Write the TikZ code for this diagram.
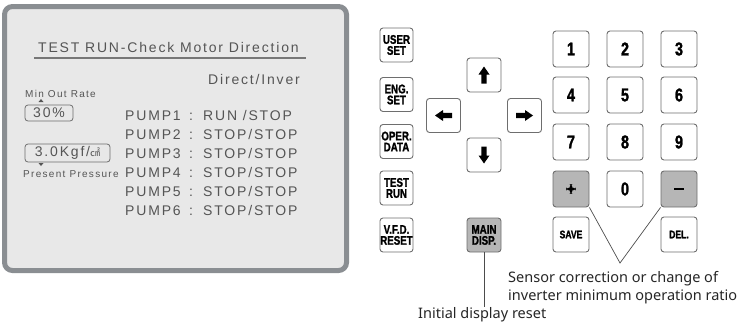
\documentclass[tikz,border=0pt]{standalone}
\usepackage{fontspec}
\setmainfont{Liberation Sans}
\newfontfamily\lcdf[LetterSpace=13]{Liberation Sans}
\newfontfamily\keyf[FakeStretch=0.78, BoldFeatures={FakeBold=1.4}]{Liberation Sans}
\newfontfamily\notef{Noto Sans}
\newfontfamily\cjkf{Noto Sans CJK SC}
\definecolor{panelfill}{HTML}{E8E8E8}
\definecolor{panelborder}{HTML}{8A8E92}
\definecolor{lcdtext}{HTML}{555555}
\definecolor{keyborder}{HTML}{6E6E6E}
\definecolor{keygray}{HTML}{B6B6B6}
\begin{document}
\begin{tikzpicture}[x=1pt,y=-1pt,
  lcd/.style={font=\lcdf\fontsize{14}{14}\selectfont, text=lcdtext, inner sep=0pt},
  lcdsmall/.style={font=\lcdf\fontsize{10}{10}\selectfont, text=lcdtext, inner sep=0pt},
  valbox/.style={draw=keyborder, line width=0.8pt, rounded corners=3pt, inner sep=0pt, font=\lcdf\fontsize{14}{14}\selectfont, text=lcdtext},
  keybtn/.style={draw=keyborder, line width=0.9pt, rounded corners=3pt, fill=white, inner sep=0pt, align=center,
    font=\keyf\bfseries\fontsize{12.5}{11}\selectfont},
  numkey/.style={keybtn, minimum width=36pt, minimum height=36pt, font=\keyf\bfseries\fontsize{18.5}{18}\selectfont},
  leftkey/.style={keybtn, minimum width=33pt, minimum height=34pt},
  arrkey/.style={keybtn, minimum width=34pt, minimum height=34pt},
  graykey/.style={fill=keygray},
  callout/.style={draw=black!70, line width=0.7pt},
  note/.style={font=\notef\fontsize{14.5}{18}\selectfont, text=black!85, inner sep=0pt}
]
\useasboundingbox (0,0) rectangle (743,324);

% ---------- LCD panel ----------
\draw[panelborder, fill=panelfill, line width=5pt, rounded corners=8pt] (4.5,6.5) rectangle (346.5,270.5);

\node[lcd, anchor=base west] (title) at (38,52) {TEST RUN-Check Motor Direction};
\draw[lcdtext!80, line width=1.2pt] (34,58) -- (306,58);
\node[lcd, anchor=base east] (dirinv) at (300,84) {Direct/Inver};

\node[lcdsmall, anchor=base west] (minrate) at (25,97.5) {Min Out Rate};
\fill[lcdtext] (38.5,102) -- (43.5,102) -- (41,99) -- cycle;
\node[valbox, minimum width=48pt, minimum height=16pt] (rate) at (49,113) {30\%};

\node[valbox, minimum width=85pt, minimum height=18pt] (press) at (67.5,153) {3.0Kgf/{\cjkf\fontsize{10}{10}\selectfont ㎠}};
\fill[lcdtext] (38.5,163) -- (43.5,163) -- (41,166) -- cycle;
\node[lcdsmall, anchor=base west] (prestxt) at (23,177) {Present Pressure};

\foreach \n/\st [count=\i from 0] in {1/{RUN\ /STOP},2/{STOP/STOP},3/{STOP/STOP},4/{STOP/STOP},5/{STOP/STOP},6/{STOP/STOP}}{
  \node[lcd, anchor=base west] (pump\n) at (125,120+19*\i) {PUMP\n};
  \node[lcd, anchor=base west] (colon\n) at (189,120+19*\i) {:};
  \node[lcd, anchor=base west] (stat\n) at (203,120+19*\i) {\st};
}

% ---------- left key column ----------
\node[leftkey] (userset) at (396.5,45) {USER\\SET};
\node[leftkey] (engset) at (396.5,94.5) {ENG.\\SET};
\node[leftkey] (operdata) at (396.5,141.5) {OPER.\\DATA};
\node[leftkey] (testrun) at (396.5,188) {TEST\\RUN};
\node[leftkey] (vfdreset) at (396.5,235) {V.F.D.\\RESET};

% ---------- arrow keys ----------
\node[arrkey] (kup) at (484,75) {};
\node[arrkey] (kleft) at (443.5,115.5) {};
\node[arrkey] (kright) at (524.5,115.5) {};
\node[arrkey] (kdown) at (484,155) {};
\node[arrkey, graykey] (maindisp) at (484,235) {MAIN\\DISP.};

\newcommand{\kbarrow}[2]{\fill[black, shift={(#1)}, rotate=#2]
  (0,-8.5) -- (5.5,-0.5) -- (2.7,-0.5) -- (2.7,8.5) -- (-2.7,8.5) -- (-2.7,-0.5) -- (-5.5,-0.5) -- cycle;}
\kbarrow{kup.center}{0}
\kbarrow{kdown.center}{180}
\kbarrow{kleft.center}{90}
\kbarrow{kright.center}{-90}

% ---------- number keys ----------
\node[numkey] (k1) at (571,49) {1};
\node[numkey] (k2) at (625,49) {2};
\node[numkey] (k3) at (679,49) {3};
\node[numkey] (k4) at (571,95) {4};
\node[numkey] (k5) at (625,95) {5};
\node[numkey] (k6) at (679,95) {6};
\node[numkey] (k7) at (571,142) {7};
\node[numkey] (k8) at (625,142) {8};
\node[numkey] (k9) at (679,142) {9};
\node[numkey, graykey] (kplus) at (571,189) {\tikz[x=1pt,y=1pt]{\fill[black] (-4.8,-1.4) rectangle (4.8,1.4); \fill[black] (-1.4,-4.8) rectangle (1.4,4.8);}};
\node[numkey] (k0) at (625,189) {0};
\node[numkey, graykey] (kminus) at (679,189) {\rule{9.5pt}{2.8pt}};
\node[keybtn, minimum width=36pt, minimum height=35pt, font=\keyf\bfseries\fontsize{11}{11}\selectfont] (save) at (571,234.5) {SAVE};
\node[keybtn, minimum width=36pt, minimum height=35pt, font=\keyf\bfseries\fontsize{11}{11}\selectfont] (del) at (679,234.5) {DEL.};

% ---------- callouts ----------
\coordinate (vtip) at (620,263);
\draw[callout] (kplus.south east) -- (vtip) -- (kminus.south west);
\node[note, anchor=base west] (sensor) at (508,282) {Sensor correction or change of};
\node[note, anchor=base west] (sensor2) at (508,300) {inverter minimum operation ratio};

\node[note, anchor=base west] (initreset) at (418,318) {Initial display reset};
\draw[callout] (maindisp.south) -- (maindisp.south |- initreset.north);
\end{tikzpicture}
\end{document}
